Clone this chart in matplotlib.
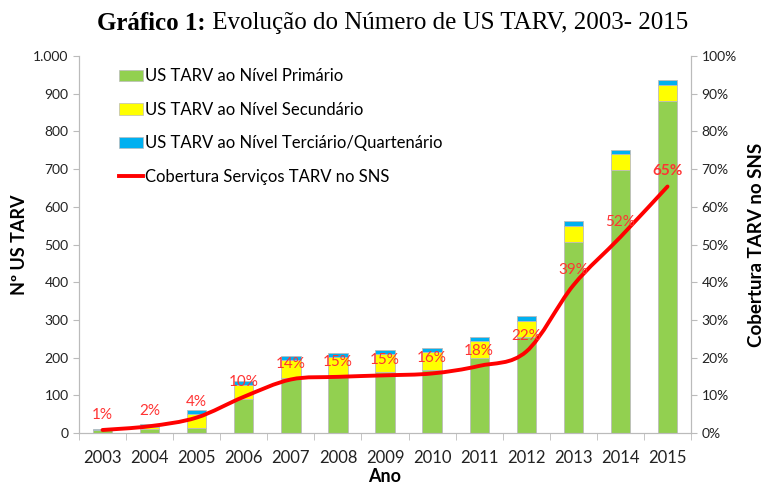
import numpy as np
import matplotlib.pyplot as plt
from matplotlib.path import Path
from matplotlib.patches import PathPatch, Patch
from matplotlib.lines import Line2D
from matplotlib.ticker import FuncFormatter, PercentFormatter

# dados
anos = ['2003', '2004', '2005', '2006', '2007', '2008', '2009',
        '2010', '2011', '2012', '2013', '2014', '2015']
primario = [7, 11, 13, 89, 146, 153, 161, 167, 198, 255, 508, 697, 880]
secundario = [2, 4, 37, 38, 48, 48, 48, 48, 45, 43, 42, 43, 44]
terciario = [2, 8, 11, 12, 9, 11, 10, 10, 12, 12, 12, 12, 12]
cobertura = [0.8, 1.8, 4.1, 9.6, 14.2, 14.9, 15.3, 15.8, 17.8, 21.6, 39.2, 52.0, 65.4]
rotulos = ['1%', '2%', '4%', '10%', '14%', '15%', '15%', '16%', '18%', '22%', '39%', '52%', '65%']

plt.rcParams['font.family'] = ['Lato', 'DejaVu Sans']

verde = '#92D050'
amarelo = '#FFFF00'
azul = '#00B0F0'
vermelho = '#FF0000'

fig = plt.figure(figsize=(7.64, 4.88), dpi=100)
ax = fig.add_axes([0.1034, 0.1127, 0.8011, 0.7723])
ax2 = ax.twinx()

x = np.arange(len(anos))
w = 0.41
prim = np.array(primario)
sec = np.array(secundario)
ter = np.array(terciario)
ax.bar(x, prim, w, color=verde, edgecolor='#BBBBBB', linewidth=0.6, zorder=2)
ax.bar(x, sec, w, bottom=prim, color=amarelo, edgecolor='#BBBBBB', linewidth=0.6, zorder=2)
ax.bar(x, ter, w, bottom=prim + sec, color=azul, edgecolor='#BBBBBB', linewidth=0.6, zorder=2)

ax.set_xlim(-0.5, len(anos) - 0.5)
ax.set_ylim(0, 1000)
ax.set_yticks(np.arange(0, 1001, 100))
ax.yaxis.set_major_formatter(FuncFormatter(lambda v, p: f'{int(v):,}'.replace(',', '.')))
ax.set_xticks(x)
ax.set_xticklabels(anos)
ax.set_xticks(np.arange(-0.5, len(anos), 1), minor=True)
ax.tick_params(axis='x', which='major', length=0, labelsize=12, pad=12, colors='#222222')
ax.tick_params(axis='x', which='minor', length=5, color='#BBBBBB')
ax.tick_params(axis='y', length=4, color='#BBBBBB', labelsize=10, colors='#222222')
for s in ['top']:
    ax.spines[s].set_visible(False)
    ax2.spines[s].set_visible(False)
for s in ['left', 'bottom', 'right']:
    ax.spines[s].set_color('#BBBBBB')
    ax2.spines[s].set_color('#BBBBBB')

ax.set_ylabel('Nº US TARV', fontsize=13, fontweight='bold', labelpad=4)
ax.set_xlabel('Ano', fontsize=13, fontweight='bold', labelpad=2)

# linha suavizada de cobertura (Bezier através dos pontos)
ax2.set_ylim(0, 100)
ax2.yaxis.set_major_formatter(PercentFormatter(decimals=0))
ax2.set_yticks(np.arange(0, 101, 10))
ax2.tick_params(axis='y', length=4, color='#BBBBBB', labelsize=10, colors='#222222')
ax2.set_ylabel('Cobertura TARV no SNS', fontsize=13.5, fontweight='bold', labelpad=8)

pts = np.column_stack([x, cobertura]).astype(float)
verts = [pts[0]]
codes = [Path.MOVETO]
n = len(pts)
for i in range(n - 1):
    p0 = pts[max(i - 1, 0)]
    p1 = pts[i]
    p2 = pts[i + 1]
    p3 = pts[min(i + 2, n - 1)]
    verts += [p1 + (p2 - p0) / 6, p2 - (p3 - p1) / 6, p2]
    codes += [Path.CURVE4] * 3
ax2.add_patch(PathPatch(Path(verts, codes), facecolor='none', edgecolor=vermelho,
                        linewidth=2.8, capstyle='round', zorder=3))

for xi, yi, r in zip(x, cobertura, rotulos):
    ax2.annotate(r, (xi, yi), xytext=(0, 11), textcoords='offset points',
                 ha='center', va='center', fontsize=11, color='#FF3333',
                 fontweight='bold' if r == '65%' else 'normal', zorder=4)

handles = [Patch(facecolor=verde, edgecolor='#BBBBBB', linewidth=0.5),
           Patch(facecolor=amarelo, edgecolor='#BBBBBB', linewidth=0.5),
           Patch(facecolor=azul, edgecolor='#BBBBBB', linewidth=0.5),
           Line2D([], [], color=vermelho, linewidth=2.8)]
labels = ['US TARV ao Nível Primário', 'US TARV ao Nível Secundário',
          'US TARV ao Nível Terciário/Quartenário', 'Cobertura Serviços TARV no SNS']
ax2.legend(handles, labels, loc='upper left', bbox_to_anchor=(0.055, 0.985), frameon=False,
           fontsize=12, handlelength=1.45, handletextpad=0.1, labelspacing=1.05,
           borderaxespad=0)

# título: parte em negrito + parte normal, centrado
r = fig.canvas.get_renderer()
t1 = fig.text(0, 0.952, 'Gráfico 1:', family='Liberation Serif', fontsize=18,
              fontweight='bold', ha='left', va='center')
t2 = fig.text(0, 0.952, ' Evolução do Número de US TARV, 2003- 2015', family='Liberation Serif',
              fontsize=18, ha='left', va='center')
w1 = t1.get_window_extent(r).width / fig.bbox.width
w2 = t2.get_window_extent(r).width / fig.bbox.width
x0 = 0.514 - (w1 + w2) / 2
t1.set_x(x0)
t2.set_x(x0 + w1)

fig.savefig('out.png', dpi=100)
